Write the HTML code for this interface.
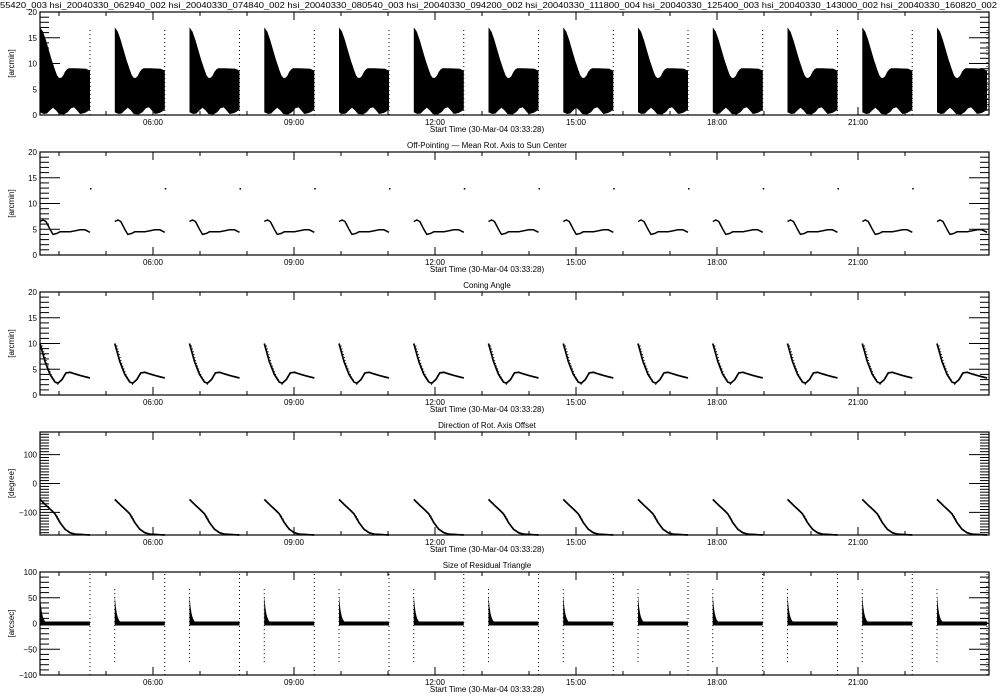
<!DOCTYPE html>
<html><head><meta charset="utf-8"><style>
html,body{margin:0;padding:0;background:#fff;}
svg{display:block;font-family:"Liberation Sans",sans-serif;}
</style></head><body>
<svg id="s" width="1000" height="700" viewBox="0 0 1000 700" xmlns="http://www.w3.org/2000/svg"></svg>
<script>
var s=document.getElementById('s');var h='';
var L=40,R=989,H=103;
h+='<text x="0" y="8" font-size="8.5" textLength="997" lengthAdjust="spacingAndGlyphs">55420_003 hsi_20040330_062940_002 hsi_20040330_074840_002 hsi_20040330_080540_003 hsi_20040330_094200_002 hsi_20040330_111800_004 hsi_20040330_125400_003 hsi_20040330_143000_002 hsi_20040330_160820_002</text>';
var titles=['','Off-Pointing  \u2014  Mean Rot. Axis to Sun Center','Coning Angle','Direction of Rot. Axis Offset','Size of Residual Triangle'];
var cfg=[
 {min:0,max:20,maj:5,mn:1,lab:'[arcmin]',labs:[0,5,10,15,20]},
 {min:0,max:20,maj:5,mn:1,lab:'[arcmin]',labs:[0,5,10,15,20]},
 {min:0,max:20,maj:5,mn:1,lab:'[arcmin]',labs:[0,5,10,15,20]},
 {min:-178,max:178,maj:100,mn:10,lab:'[degree]',labs:[-100,0,100]},
 {min:-100,max:100,maj:50,mn:10,lab:'[arcsec]',labs:[-100,-50,0,50,100]}];
var hrs=['06:00','09:00','12:00','15:00','18:00','21:00'];
function interp(pts,u){for(var i=0;i<pts.length-1;i++){if(u<=pts[i+1][0]){var a=pts[i],b=pts[i+1];return a[1]+(b[1]-a[1])*(u-a[0])/(b[0]-a[0]);}}return pts[pts.length-1][1];}
var top1=[[0,17],[3,16.2],[6,14.5],[9,12.5],[12,10.5],[15,8.8],[17,7.7],[19,7.2],[21,7.2],[23,7.6],[25,8.4],[27,8.9],[29,9.1],[46,9],[50,8.6]];
var bot1=[[0,0.5],[4,0.2],[7,0.3],[10,0.9],[13,1.4],[16,0.9],[19,0.2],[24,0.1],[28,0.6],[31,1.3],[34,1.5],[37,0.9],[40,0.2],[45,0.4],[50,1]];
var c2=[[0,6.5],[3,6.8],[6,6.5],[10,5],[13,4],[17,4.2],[20,4.5],[30,4.5],[40,4.9],[45,4.9],[50,4.4]];
var c3=[[0,10],[5,6.5],[10,4],[15,2.5],[18,2.3],[22,3],[26,4.3],[30,4.4],[40,3.8],[50,3.3]];
var c4=[[0,-55],[5,-72],[10,-88],[15,-105],[20,-135],[25,-158],[30,-170],[35,-175],[50,-178]];
for(var p=0;p<5;p++){
 var T=12+140*p,B=T+H,c=cfg[p];
 var Y=function(v){return B-(v-c.min)/(c.max-c.min)*H;};
 h+='<rect x="'+L+'" y="'+T+'" width="'+(R-L)+'" height="'+H+'" fill="none" stroke="#000" stroke-width="1.2"/>';
 for(var v=Math.ceil(c.min/c.mn)*c.mn;v<=c.max;v+=c.mn){var y=Y(v).toFixed(1);var len=(Math.abs(v%c.maj)<1e-6)?20:9;
  h+='<line x1="'+L+'" y1="'+y+'" x2="'+(L+len)+'" y2="'+y+'" stroke="#000"/><line x1="'+R+'" y1="'+y+'" x2="'+(R-len)+'" y2="'+y+'" stroke="#000"/>';}
 c.labs.forEach(function(v){h+='<text x="37" y="'+(Y(v)+3)+'" font-size="8" text-anchor="end">'+(v<0?'\u2212'+(-v):v)+'</text>';});
 h+='<text transform="translate(14,'+(T+H/2)+') rotate(-90)" font-size="8" text-anchor="middle">'+c.lab+'</text>';
 for(var k=-2;k<=18;k++){var x=153+47*(k-2);if(x<=L||x>=R)continue;var maj=((k-2)%3==0);var ln=maj?8:4;
  h+='<line x1="'+x+'" y1="'+B+'" x2="'+x+'" y2="'+(B-ln)+'" stroke="#000"/><line x1="'+x+'" y1="'+T+'" x2="'+x+'" y2="'+(T+ln)+'" stroke="#000"/>';}
 hrs.forEach(function(t,i){h+='<text x="'+(153+141*i)+'" y="'+(B+10)+'" font-size="8" text-anchor="middle">'+t+'</text>';});
 h+='<text x="487" y="'+(B+17)+'" font-size="8" text-anchor="middle">Start Time (30-Mar-04 03:33:28)</text>';
 if(p>0)h+='<text x="487" y="'+(T-4)+'" font-size="8" text-anchor="middle">'+titles[p]+'</text>';
 for(var g=0;g<13;g++){var s0=40+74.75*g;var w=Math.min(50,R-s0);if(w<=0)continue;
  if(p==0){
   var a=[],b=[];for(var u=0;u<=w;u+=1){a.push((s0+u).toFixed(1)+','+Y(interp(top1,u)).toFixed(1));b.unshift((s0+u).toFixed(1)+','+Y(interp(bot1,u)).toFixed(1));}
   h+='<polygon points="'+a.concat(b).join(' ')+'" fill="#000"/>';
   if(w>=50)h+='<line x1="'+(s0+50)+'" y1="'+Y(0)+'" x2="'+(s0+50)+'" y2="'+Y(17)+'" stroke="#000" stroke-width="1" stroke-dasharray="1,3"/>';
  } else if(p<4){
   var cc=p==1?c2:(p==2?c3:c4);var a=[];for(var u=0;u<=w;u+=1)a.push((s0+u).toFixed(1)+','+Y(interp(cc,u)).toFixed(1));
   h+='<polyline points="'+a.join(' ')+'" fill="none" stroke="#000" stroke-width="'+(p==1?1.5:1.7)+'"/>';
   if(p>=2){var a2=[];for(var u=0;u<=Math.min(w,18);u+=1)a2.push((s0+u+2).toFixed(1)+','+(Y(interp(cc,u))+2).toFixed(1));h+='<polyline points="'+a2.join(' ')+'" fill="none" stroke="#000" stroke-width="1" stroke-dasharray="1,2"/>';}
   if(p==1&&w>=50)h+='<rect x="'+(s0+50)+'" y="'+Y(13)+'" width="1.5" height="1.5"/>';
  } else {
   h+='<rect x="'+s0+'" y="'+(Y(0)-2)+'" width="'+w+'" height="4" fill="#000"/>';
   var a=[s0+','+Y(0)];for(var u=0;u<=6;u++)a.push((s0+u)+','+Y(55*Math.exp(-u/2)));a.push((s0+6)+','+Y(0));
   h+='<polygon points="'+a.join(' ')+'" fill="#000"/>';
   h+='<line x1="'+s0+'" y1="'+Y(-75)+'" x2="'+s0+'" y2="'+Y(70)+'" stroke="#000" stroke-dasharray="1,3"/>';
   if(w>=50)h+='<line x1="'+(s0+50)+'" y1="'+Y(-100)+'" x2="'+(s0+50)+'" y2="'+Y(100)+'" stroke="#000" stroke-dasharray="1,3"/>';
  }
 }
}
s.innerHTML=h;
</script>
</body></html>
